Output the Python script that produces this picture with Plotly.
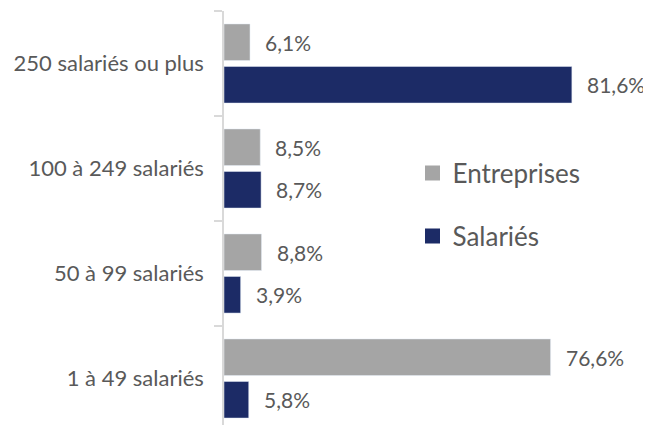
import plotly.graph_objects as go

categories = ["1 à 49 salariés", "50 à 99 salariés", "100 à 249 salariés", "250 salariés ou plus"]
entreprises = [76.6, 8.8, 8.5, 6.1]
salaries = [5.8, 3.9, 8.7, 81.6]

GRAY = "#A5A5A5"
NAVY = "#1C2B66"
TXT = "#595959"
FONT = "Lato"

# page body has an 8px default margin: figure is drawn at (8, 8)
OFF = 8
W, H = 651 - OFF, 425 - OFF
L, R, T, B = 224 - OFF, 22, 11 - OFF, 0
PW, PH = W - L - R, H - T - B

fig = go.Figure()
fig.add_trace(go.Bar(y=categories, x=salaries, orientation="h", name="Salariés",
                     marker_color=NAVY, showlegend=False))
fig.add_trace(go.Bar(y=categories, x=entreprises, orientation="h", name="Entreprises",
                     marker_color=GRAY, showlegend=False))
# legend entries (square swatches)
fig.add_trace(go.Scatter(x=[None], y=[None], mode="markers", name="Entreprises",
                         marker=dict(symbol="square", size=15, color=GRAY, line_width=0),
                         legend="legend"))
fig.add_trace(go.Scatter(x=[None], y=[None], mode="markers", name="Salariés",
                         marker=dict(symbol="square", size=15, color=NAVY, line_width=0),
                         legend="legend2"))

anns = []
for vals, shift in ((entreprises, 21), (salaries, -21)):
    for cat, v in zip(categories, vals):
        anns.append(dict(x=v, y=cat, yshift=shift, xshift=13, xanchor="left", yanchor="middle",
                         text=f"{v:.1f}%".replace(".", ","), showarrow=False,
                         font=dict(family=FONT, size=21, color=TXT)))

def lg(ypage):
    return dict(xref="paper", yref="paper", x=(412.5 - OFF - L) / PW,
                y=(H - (ypage - OFF)) / PH,
                xanchor="left", yanchor="middle", font=dict(family=FONT, size=26, color=TXT),
                bgcolor="rgba(0,0,0,0)", borderwidth=0)

fig.update_layout(
    width=W, height=H,
    margin=dict(l=L, r=R, t=T, b=B, autoexpand=False),
    paper_bgcolor="white", plot_bgcolor="white",
    barmode="group", bargap=0.19, bargroupgap=0.14,
    font=dict(family=FONT, color=TXT),
    annotations=anns,
    showlegend=True,
    legend=lg(173),
    legend2=lg(236),
)
fig.update_xaxes(visible=False, range=[0, 95], showgrid=False, zeroline=False)
fig.update_yaxes(type="category", categoryorder="array", categoryarray=categories,
                 range=[3.5 - PH / 105, 3.5], showline=True, linecolor="#D9D9D9", linewidth=1.5,
                 ticks="outside", tickson="boundaries", ticklen=8, tickcolor="#D9D9D9",
                 tickwidth=1.5, ticklabelstandoff=14, showgrid=False, zeroline=False,
                 automargin=False,
                 tickfont=dict(family=FONT, size=22, color=TXT))

fig.write_html("out.html")
